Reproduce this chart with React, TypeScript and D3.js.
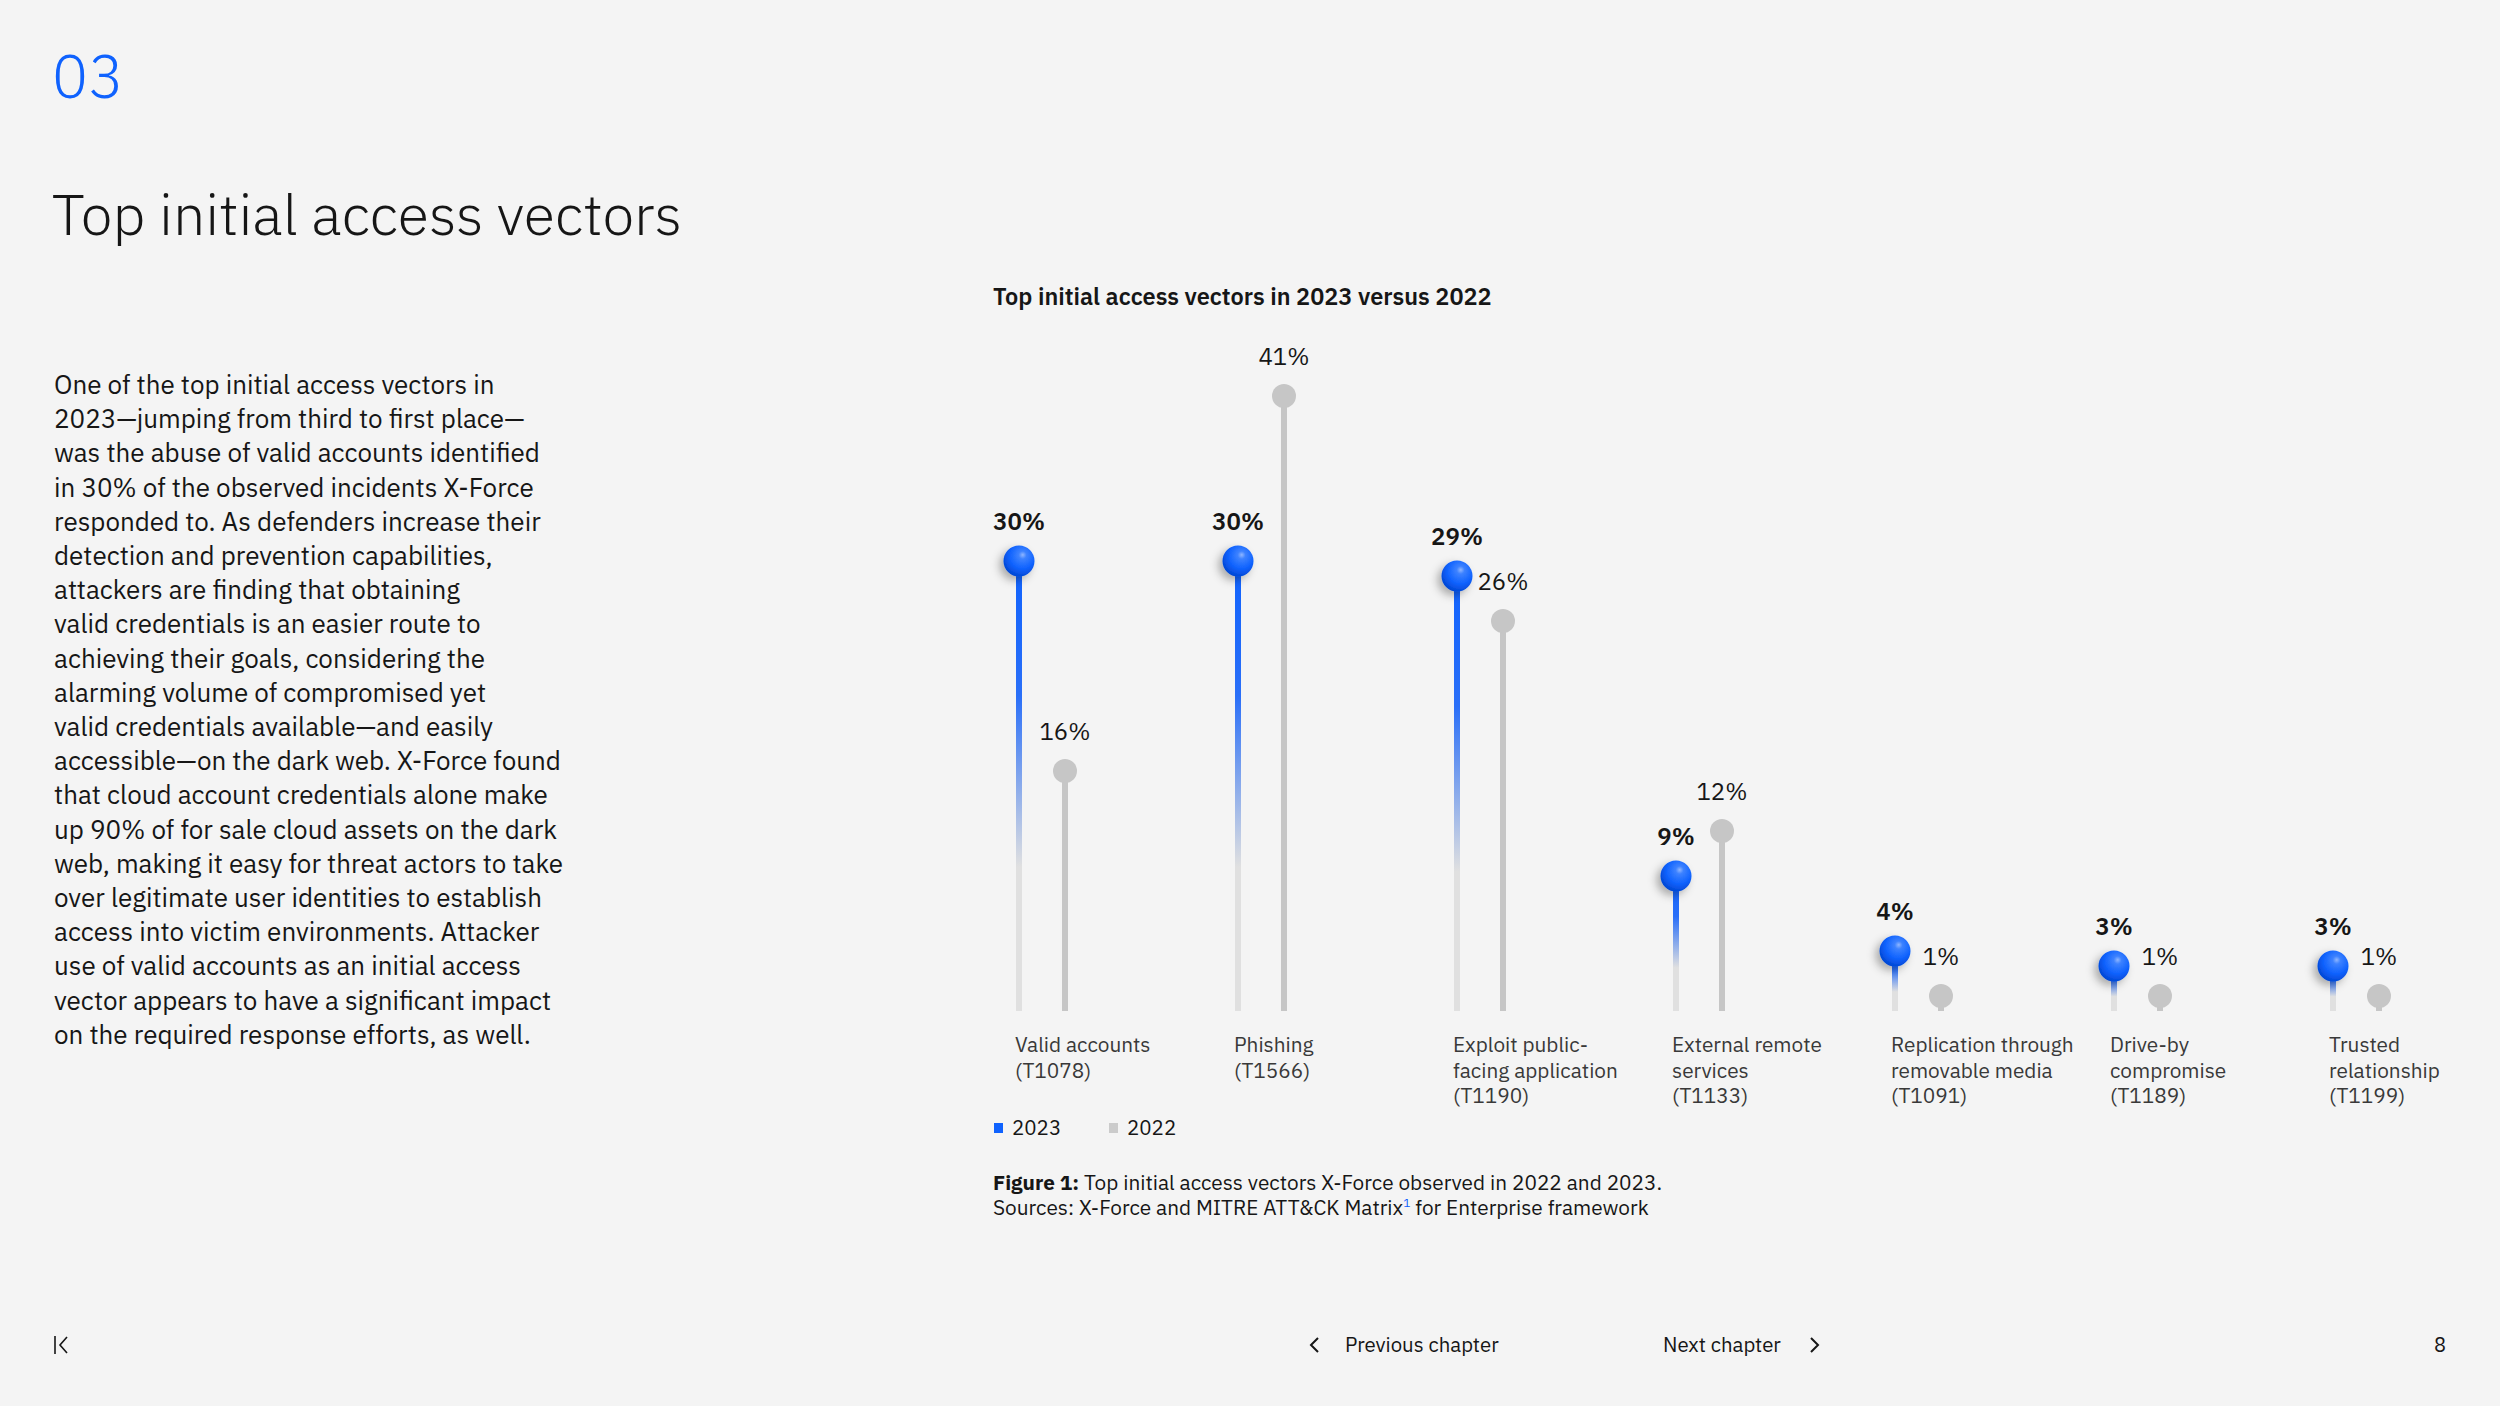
import React from "react";
import * as d3 from "d3";

const categories = [
  "Valid accounts",
  "Phishing",
  "Exploit public-facing application",
  "External remote services",
  "Replication through removable media",
  "Drive-by compromise",
  "Trusted relationship",
];
const categoryLines = [
  ["Valid accounts", "(T1078)"],
  ["Phishing", "(T1566)"],
  ["Exploit public-", "facing application", "(T1190)"],
  ["External remote", "services", "(T1133)"],
  ["Replication through", "removable media", "(T1091)"],
  ["Drive-by", "compromise", "(T1189)"],
  ["Trusted", "relationship", "(T1199)"],
];
const values2023 = [30, 30, 29, 9, 4, 3, 3];
const values2022 = [16, 41, 26, 12, 1, 1, 1];
const seriesNames = ["2023", "2022"];
const seriesColors = ["#0f62fe", "#c6c6c6"];

const chapterNumber = "03";
const pageTitle = "Top initial access vectors";
const chartTitle = "Top initial access vectors in 2023 versus 2022";
const bodyLines = [
  "One of the top initial access vectors in",
  "2023\u2014jumping from third to first place\u2014",
  "was the abuse of valid accounts identified",
  "in 30% of the observed incidents X-Force",
  "responded to. As defenders increase their",
  "detection and prevention capabilities,",
  "attackers are finding that obtaining",
  "valid credentials is an easier route to",
  "achieving their goals, considering the",
  "alarming volume of compromised yet",
  "valid credentials available\u2014and easily",
  "accessible\u2014on the dark web. X-Force found",
  "that cloud account credentials alone make",
  "up 90% of for sale cloud assets on the dark",
  "web, making it easy for threat actors to take",
  "over legitimate user identities to establish",
  "access into victim environments. Attacker",
  "use of valid accounts as an initial access",
  "vector appears to have a significant impact",
  "on the required response efforts, as well.",
];

const W = 2500;
const H = 1406;
const FONT = "'IBM Plex Sans', Roboto, 'Noto Sans', sans-serif";
const INK = "#161616";

export default function App() {
  const x = d3.scalePoint<string>().domain(categories).range([1019, 2333]);
  const y = d3.scaleLinear().domain([0, 41]).range([1011, 396]);
  const off2022 = 46;
  const stemW = 6;
  const ballR = 15.5;
  const dotR = 12;

  return (
    <>
      <style>{"body{margin:0;background:#f4f4f4;} #root{line-height:0}"}</style>
      <svg width={W} height={H} viewBox={`0 0 ${W} ${H}`} style={{ display: "block", fontFamily: FONT }}>
        <defs>
          <linearGradient id="stemGrad" x1="0" y1="0" x2="0" y2="1">
            <stop offset="0" stopColor="#0f62fe" />
            <stop offset="0.3" stopColor="#2a6ff8" />
            <stop offset="0.68" stopColor="#e0e0e0" />
            <stop offset="1" stopColor="#e0e0e0" />
          </linearGradient>
          <radialGradient id="ballGrad" cx="0.6" cy="0.35" r="0.7" fx="0.62" fy="0.3">
            <stop offset="0" stopColor="#8fb6ff" />
            <stop offset="0.18" stopColor="#3d82ff" />
            <stop offset="0.6" stopColor="#0f62fe" />
            <stop offset="1" stopColor="#0043ce" />
          </radialGradient>
          <filter id="ballShadow" x="-60%" y="-60%" width="220%" height="220%">
            <feDropShadow dx="-4" dy="4" stdDeviation="4" floodColor="#000" floodOpacity="0.3" />
          </filter>
        </defs>
        <rect x={0} y={0} width={W} height={H} fill="#f4f4f4" />

        {/* page header */}
        <text x={52} y={98} fontSize={60} fontWeight={300} fill="#0f62fe">
          {chapterNumber}
        </text>
        <text x={52} y={235} fontSize={57.4} fontWeight={300} fill={INK}>
          {pageTitle}
        </text>

        {/* body copy */}
        <text fontSize={26} fill={INK}>
          {bodyLines.map((l, i) => (
            <tspan key={i} x={54} y={394 + i * 34.2}>
              {l}
            </tspan>
          ))}
        </text>

        {/* chart title */}
        <text x={993} y={305} fontSize={23.5} fontWeight={600} fill={INK}>
          {chartTitle}
        </text>

        {/* 2022 lollipops */}
        {categories.map((c, i) => {
          const cx = (x(c) as number) + off2022;
          const v = values2022[i];
          return (
            <g key={"g22" + i}>
              <rect x={cx - stemW / 2} y={y(v)} width={stemW} height={y(0) - y(v)} fill={seriesColors[1]} />
              <circle cx={cx} cy={y(v)} r={dotR} fill={seriesColors[1]} />
              <text x={cx} y={y(v) - 31} fontSize={24} textAnchor="middle" fill={INK}>
                {v}%
              </text>
            </g>
          );
        })}

        {/* 2023 lollipops */}
        {categories.map((c, i) => {
          const cx = x(c) as number;
          const v = values2023[i];
          return (
            <g key={"g23" + i}>
              <rect x={cx - stemW / 2} y={y(v)} width={stemW} height={y(0) - y(v)} fill="url(#stemGrad)" />
              <circle cx={cx} cy={y(v)} r={ballR} fill="url(#ballGrad)" filter="url(#ballShadow)" />
              <text x={cx} y={y(v) - 31} fontSize={24} fontWeight={600} textAnchor="middle" fill={INK}>
                {v}%
              </text>
            </g>
          );
        })}

        {/* category labels */}
        {categories.map((c, i) => (
          <text key={"lab" + i} fontSize={20.8} fill="#393939">
            {categoryLines[i].map((l, j) => (
              <tspan key={j} x={(x(c) as number) - 4} y={1052 + j * 25.5}>
                {l}
              </tspan>
            ))}
          </text>
        ))}

        {/* legend */}
        {seriesNames.map((s, i) => (
          <g key={"leg" + i} transform={`translate(${994 + i * 115},0)`}>
            <rect x={0} y={1123} width={9} height={10} fill={seriesColors[i]} opacity={i === 0 ? 1 : 0.9} />
            <text x={18} y={1135} fontSize={20.5} fill={INK}>
              {s}
            </text>
          </g>
        ))}

        {/* caption */}
        <text x={993} y={1190} fontSize={20.8} fill={INK}>
          <tspan fontWeight={700}>Figure 1:</tspan>
          <tspan> Top initial access vectors X-Force observed in 2022 and 2023.</tspan>
        </text>
        <text x={993} y={1215} fontSize={20.8} fill={INK}>
          <tspan>Sources: X-Force and MITRE ATT&amp;CK Matrix</tspan>
          <tspan fontSize={12} dy={-8} fill="#0f62fe">1</tspan>
          <tspan dy={8}> for Enterprise framework</tspan>
        </text>

        {/* footer */}
        <g stroke={INK} strokeWidth={1.6} fill="none">
          <line x1={55} y1={1336} x2={55} y2={1354} />
          <polyline points="67,1337 60,1345 67,1353" />
          <polyline points="1318,1338 1311,1345 1318,1352" strokeWidth={2} />
          <polyline points="1811,1338 1818,1345 1811,1352" strokeWidth={2} />
        </g>
        <text x={1345} y={1352} fontSize={20.4} fill={INK}>
          Previous chapter
        </text>
        <text x={1663} y={1352} fontSize={20.4} fill={INK}>
          Next chapter
        </text>
        <text x={2440} y={1352} fontSize={20} fill={INK} textAnchor="middle">
          8
        </text>
      </svg>
    </>
  );
}
